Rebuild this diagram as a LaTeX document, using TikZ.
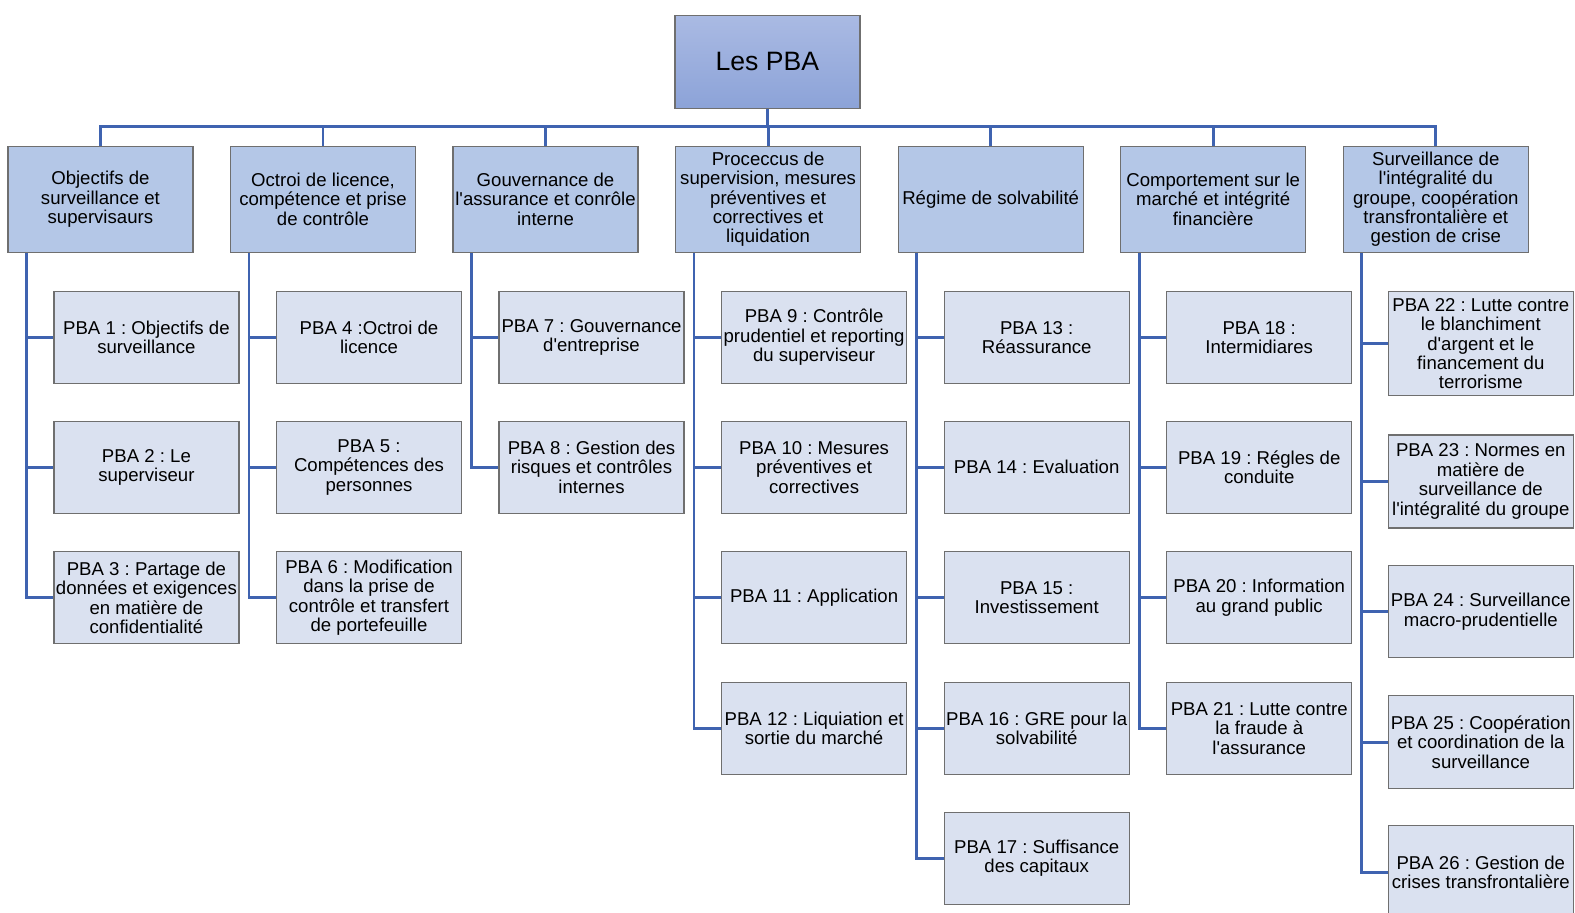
\documentclass[tikz,border=0pt]{standalone}
\usepackage{fontspec}
\newfontfamily\boxfont{Liberation Sans}
\usetikzlibrary{calc,backgrounds}
\definecolor{rootTop}{HTML}{AABAE3}
\definecolor{rootBot}{HTML}{8CA3D8}
\definecolor{catFill}{HTML}{B4C7E7}
\definecolor{itemFill}{HTML}{DAE1F0}
\definecolor{boxLine}{HTML}{6F6F6F}
\definecolor{linkBlue}{HTML}{3F63B0}
\frenchspacing
\begin{document}
\begin{tikzpicture}[x=1pt,y=-1pt,
  box/.style={draw=boxLine, line width=1.2pt, rectangle, inner sep=0pt,
    minimum width=185pt, align=center, anchor=north west,
    font=\boxfont\frenchspacing\fontsize{18.6}{19.4}\selectfont},
  rootbox/.style={box, minimum height=93pt, top color=rootTop, bottom color=rootBot,
    font=\boxfont\fontsize{26.6}{30}\selectfont},
  catbox/.style={box, fill=catFill, minimum height=106pt},
  itembox/.style={box, fill=itemFill, minimum height=92pt},
  link/.style={draw=linkBlue, line width=2.8pt}]
\useasboundingbox (0,0) rectangle (1575,913);
\clip (0,0) rectangle (1575,913);

% root
\node[rootbox] (root) at (674.3,14.5) {Les PBA};

% categories
\node[catbox] (c1) at (7.3,145.7) {Objectifs de\\surveillance et\\supervisaurs};
\node[catbox] (c2) at (229.9,145.7) {Octroi de licence,\\compétence et prise\\de contrôle};
\node[catbox] (c3) at (452.4,145.7) {Gouvernance de\\l'assurance et conrôle\\interne};
\node[catbox] (c4) at (675.0,145.7) {Proceccus de\\supervision, mesures\\préventives et\\correctives et\\liquidation};
\node[catbox] (c5) at (897.6,145.7) {Régime de solvabilité};
\node[catbox] (c6) at (1120.1,145.7) {Comportement sur le\\marché et intégrité\\financière};
\node[catbox] (c7) at (1342.7,145.7) {Surveillance de\\l'intégralité du\\groupe, coopération\\transfrontalière et\\gestion de crise};

% column 1
\node[itembox] (p1) at (53.3,290.7) {PBA 1 : Objectifs de\\surveillance};
\node[itembox] (p2) at (53.3,420.7) {PBA 2 : Le\\superviseur};
\node[itembox] (p3) at (53.3,551.2) {PBA 3 : Partage de\\données et exigences\\en matière de\\confidentialité};
% column 2
\node[itembox] (p4) at (275.9,290.7) {PBA 4 :Octroi de\\licence};
\node[itembox] (p5) at (275.9,420.7) {PBA 5 :\\Compétences des\\personnes};
\node[itembox] (p6) at (275.9,551.2) {PBA 6 : Modification\\dans la prise de\\contrôle et transfert\\de portefeuille};
% column 3
\node[itembox] (p7) at (498.4,290.7) {PBA 7 : Gouvernance\\d'entreprise};
\node[itembox] (p8) at (498.4,420.7) {PBA 8 : Gestion des\\risques et contrôles\\internes};
% column 4
\node[itembox] (p9) at (721.0,290.7) {PBA 9 : Contrôle\\prudentiel et reporting\\du superviseur};
\node[itembox] (p10) at (721.0,420.7) {PBA 10 : Mesures\\préventives et\\correctives};
\node[itembox] (p11) at (721.0,551.2) {PBA 11 : Application};
\node[itembox] (p12) at (721.0,681.7) {PBA 12 : Liquiation et\\sortie du marché};
% column 5
\node[itembox] (p13) at (943.6,290.7) {PBA 13 :\\Réassurance};
\node[itembox] (p14) at (943.6,420.7) {PBA 14 : Evaluation};
\node[itembox] (p15) at (943.6,551.2) {PBA 15 :\\Investissement};
\node[itembox] (p16) at (943.6,681.7) {PBA 16 : GRE pour la\\solvabilité};
\node[itembox] (p17) at (943.6,811.7) {PBA 17 : Suffisance\\des capitaux};
% column 6
\node[itembox] (p18) at (1166.1,290.7) {PBA 18 :\\Intermidiares};
\node[itembox] (p19) at (1166.1,420.7) {PBA 19 : Régles de\\conduite};
\node[itembox] (p20) at (1166.1,551.2) {PBA 20 : Information\\au grand public};
\node[itembox] (p21) at (1166.1,681.7) {PBA 21 : Lutte contre\\la fraude à\\l'assurance};
% column 7
\node[itembox, minimum height=104pt] (p22) at (1387.7,291) {PBA 22 : Lutte contre\\le blanchiment\\d'argent et le\\financement du\\terrorisme};
\node[itembox, minimum height=93pt] (p23) at (1387.7,434.3) {PBA 23 : Normes en\\matière de\\surveillance de\\l'intégralité du groupe};
\node[itembox, minimum height=92pt] (p24) at (1387.7,565) {PBA 24 : Surveillance\\macro-prudentielle};
\node[itembox, minimum height=93pt] (p25) at (1387.7,695) {PBA 25 : Coopération\\et coordination de la\\surveillance};
\node[itembox, minimum height=93pt] (p26) at (1387.7,825) {PBA 26 : Gestion de\\crises transfrontalière};

% connectors, behind the boxes
\begin{scope}[on background layer]
  \coordinate (bus) at (0,126.7);
  \draw[link] (c1.north) -- (c1.north |- bus) -- (c7.north |- bus) -- (c7.north);
  \draw[link] (root.south) -- (root.south |- bus);
  \foreach \c in {c2,c3,c4,c5,c6}
    \draw[link] (\c.north |- bus) -- (\c.north);
  \foreach \c/\items in {c1/{p1,p2,p3}, c2/{p4,p5,p6}, c3/{p7,p8},
      c4/{p9,p10,p11,p12}, c5/{p13,p14,p15,p16,p17},
      c6/{p18,p19,p20,p21}, c7/{p22,p23,p24,p25,p26}}{
    \coordinate (trunk) at ($(\c.south west)+(19,0)$);
    \foreach \p in \items
      \draw[link] (trunk) |- (\p.west);
  }
\end{scope}
\end{tikzpicture}
\end{document}
